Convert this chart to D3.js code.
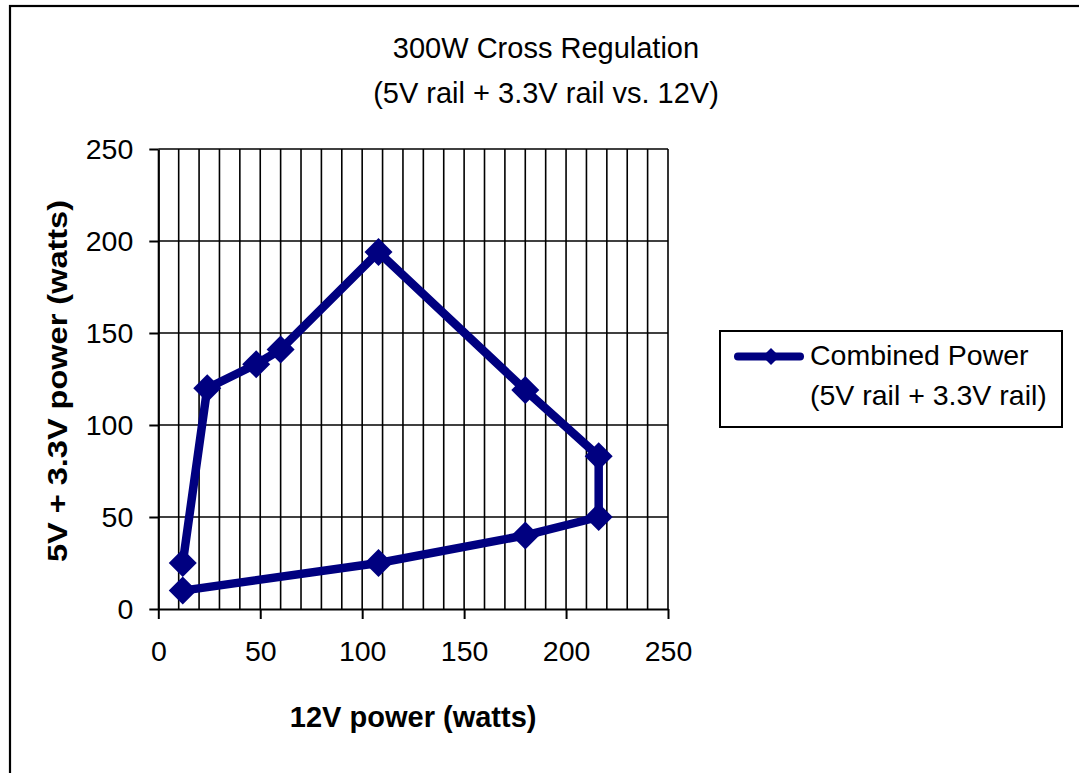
<!DOCTYPE html>
<html><head><meta charset="utf-8">
<script src="https://cdn.jsdelivr.net/npm/d3@7"></script>
<style>
html,body{margin:0;padding:0;background:#fff;}
svg{display:block;font-family:"Liberation Sans",Arial,sans-serif;}
</style></head>
<body>
<svg id="chart" width="1079" height="773"></svg>
<script>
const titleLines = ["300W Cross Regulation", "(5V rail + 3.3V rail vs. 12V)"];
const xAxisTitle = "12V power (watts)";
const yAxisTitle = "5V + 3.3V power (watts)";
const seriesName = ["Combined Power", "(5V rail + 3.3V rail)"];
const x12V = [12, 24, 48, 60, 108, 180, 216, 216, 180, 108, 12];
const y5V33V = [25, 120, 133, 141, 194, 119, 83, 50, 40, 25, 10];
const xTicks = [0, 50, 100, 150, 200, 250];
const yTicks = [0, 50, 100, 150, 200, 250];
const xGrid = d3.range(10, 251, 10);

const svg = d3.select("#chart");
const navy = "#000080";

// outer frame
svg.append("rect").attr("x", 10).attr("y", 6).attr("width", 1100).attr("height", 800)
  .attr("fill", "none").attr("stroke", "#000").attr("stroke-width", 2.2);

const x = d3.scaleLinear().domain([0, 250]).range([158.3, 668]);
const y = d3.scaleLinear().domain([0, 250]).range([609, 149]);

// gridlines
const g = svg.append("g");
g.selectAll("line.vg").data(xGrid).join("line")
  .attr("x1", d => x(d)).attr("x2", d => x(d))
  .attr("y1", y(0)).attr("y2", y(250))
  .attr("stroke", "#000").attr("stroke-width", 1.6);
g.selectAll("line.hg").data(yTicks.filter(d => d > 0)).join("line")
  .attr("x1", x(0)).attr("x2", x(250))
  .attr("y1", d => y(d)).attr("y2", d => y(d))
  .attr("stroke", "#000").attr("stroke-width", 1.6);

// axes
const xAxis = svg.append("g").attr("transform", `translate(0,${y(0)})`)
  .call(d3.axisBottom(x).tickValues(xTicks).tickSize(10).tickPadding(22).tickSizeOuter(0));
const yAxis = svg.append("g").attr("transform", `translate(${x(0)},0)`)
  .call(d3.axisLeft(y).tickValues(yTicks).tickSize(9).tickPadding(16).tickSizeOuter(0));
[xAxis, yAxis].forEach(a => {
  a.select(".domain").attr("stroke", "#000").attr("stroke-width", 2.2);
  a.selectAll(".tick line").attr("stroke", "#000").attr("stroke-width", 2);
  a.selectAll(".tick text").attr("fill", "#000").attr("font-size", 28.5)
    .attr("font-family", "'Liberation Sans',Arial,sans-serif");
});

// series line
const line = d3.line().x((d, i) => x(x12V[i])).y((d, i) => y(y5V33V[i]));
svg.append("path").datum(y5V33V).attr("d", line)
  .attr("fill", "none").attr("stroke", navy).attr("stroke-width", 8.5)
  .attr("stroke-linejoin", "round").attr("stroke-linecap", "round");

const diamond = s => `M0,${-s}L${s},0L0,${s}L${-s},0Z`;
svg.selectAll("path.mk").data(y5V33V).join("path")
  .attr("class", "mk")
  .attr("transform", (d, i) => `translate(${x(x12V[i])},${y(d)})`)
  .attr("d", diamond(14)).attr("fill", navy);

// title
svg.append("g").selectAll("text").data(titleLines).join("text")
  .attr("x", 546).attr("y", (d, i) => 58 + i * 45)
  .attr("text-anchor", "middle").attr("font-size", 29).text(d => d);

// axis titles
svg.append("text").attr("x", x(125)).attr("y", 727).attr("text-anchor", "middle")
  .attr("font-size", 29).attr("font-weight", "bold").text(xAxisTitle);
svg.append("text").attr("transform", `translate(67,381) rotate(-90)`)
  .attr("text-anchor", "middle").attr("font-size", 28).attr("font-weight", "bold")
  .attr("textLength", 362).attr("lengthAdjust", "spacingAndGlyphs").text(yAxisTitle);

// legend
const lg = svg.append("g");
lg.append("rect").attr("x", 720).attr("y", 331).attr("width", 342).attr("height", 96)
  .attr("fill", "#fff").attr("stroke", "#000").attr("stroke-width", 2);
lg.append("line").attr("x1", 738).attr("x2", 800).attr("y1", 356.5).attr("y2", 356.5)
  .attr("stroke", navy).attr("stroke-width", 8).attr("stroke-linecap", "round");
lg.append("path").attr("transform", "translate(771,356.5)").attr("d", diamond(8.5)).attr("fill", navy);
lg.selectAll("text").data(seriesName).join("text")
  .attr("x", 810).attr("y", (d, i) => 365 + i * 40)
  .attr("font-size", 28.5).text(d => d);
</script>
</body></html>
